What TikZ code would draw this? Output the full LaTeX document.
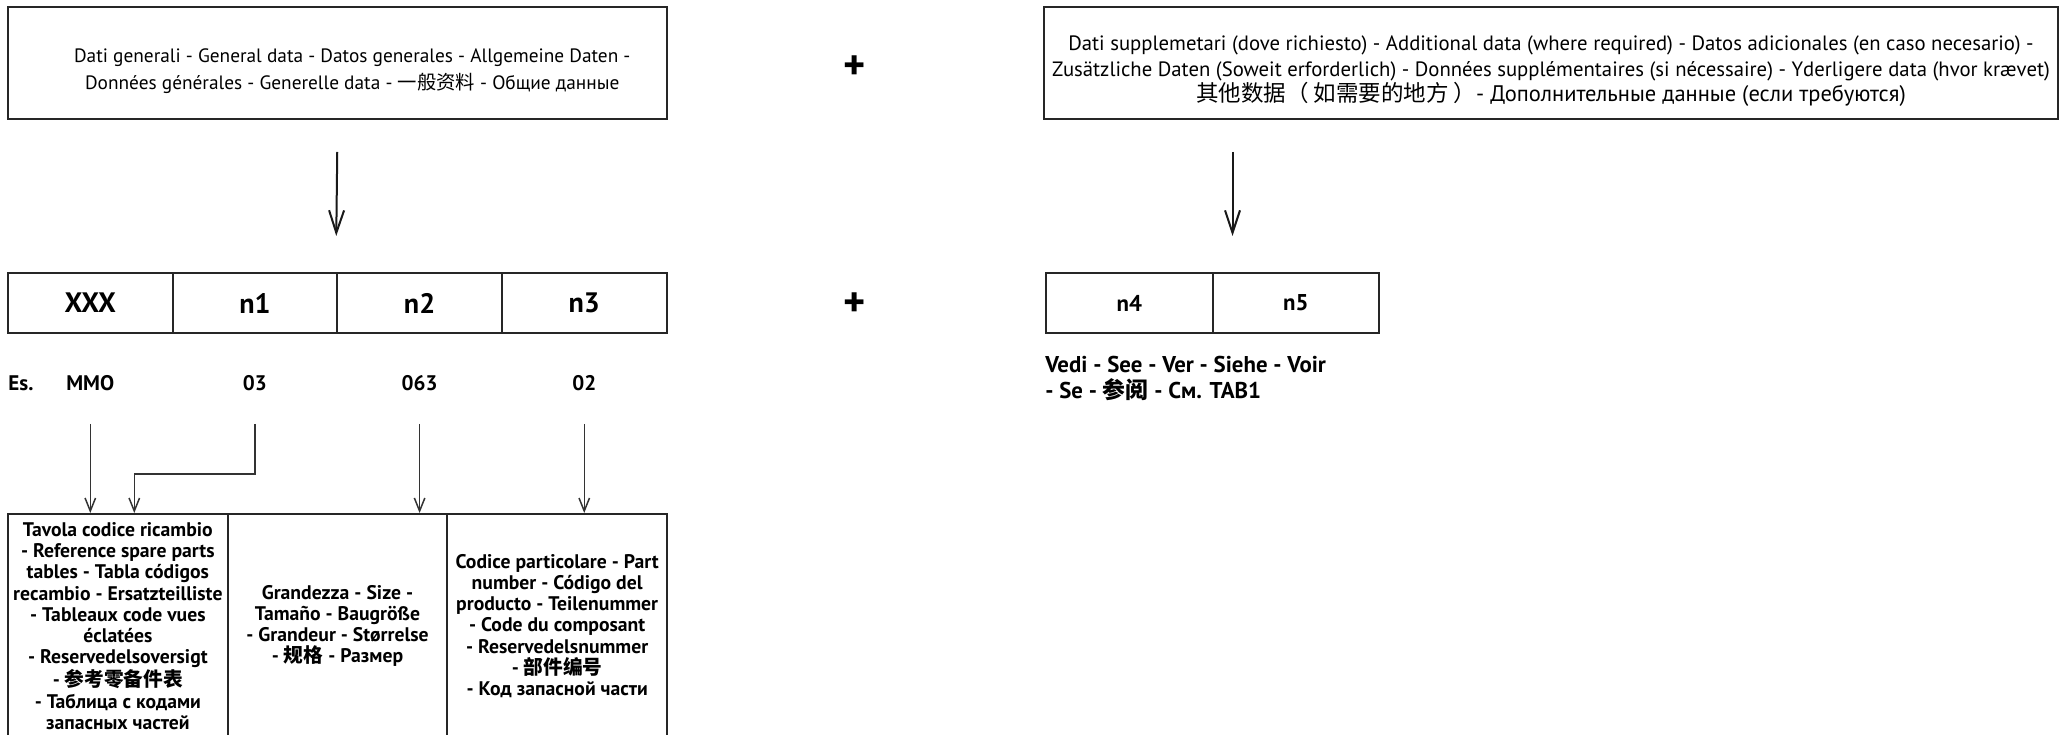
\documentclass[tikz,border=0pt]{standalone}
\usepackage{fontspec}
\setmainfont{PT Sans}
\newfontfamily\cjk{Noto Sans CJK SC}
\usetikzlibrary{calc,arrows.meta}

\begin{document}
\begin{tikzpicture}[
  node distance=32.93mm
]

  \tikzstyle{infobox}=[draw=black!85,rectangle,line width=0.4mm,minimum height=22.4mm,inner sep=0mm]
  \tikzstyle{infotext}=[inner sep=0mm,align=center]
  \tikzstyle{codecell}=[draw=black!85,rectangle,line width=0.4mm,minimum height=12mm,minimum width=32.93mm,inner sep=0mm,font=\fontsize{16}{18}\selectfont\bfseries]
  \tikzstyle{extcell}=[codecell,minimum width=33.3mm,node distance=33.3mm,font=\fontsize{13}{15}\selectfont\bfseries]
  \tikzstyle{desccell}=[draw=black!85,rectangle,line width=0.4mm,minimum height=44.8mm,minimum width=43.93mm,inner sep=0mm,node distance=43.93mm,align=center,font=\fontsize{11.2}{12.1}\selectfont\bfseries]
  \tikzstyle{valnode}=[inner sep=0mm,node distance=16mm,font=\fontsize{12}{13}\selectfont\bfseries]
  \tikzstyle{plusnode}=[inner sep=0mm,font=\fontsize{24}{24}\selectfont\bfseries]

  \tikzstyle{pointer}=[draw=black!80,line width=0.3mm,-{Straight Barb[length=2.6mm,width=2.1mm]}]
  \tikzstyle{bigpointer}=[draw=black!90,line width=0.4mm,-{Straight Barb[length=4.5mm,width=3mm]}]

  \useasboundingbox (0mm,0mm) rectangle (413mm,-147mm);

  % nodes
  \node[infobox,minimum width=131.7mm] (gen) at (67.45mm,-12.6mm) {};
  \node[infotext,font=\fontsize{11}{15.4}\selectfont] (gentext) at ($(gen)+(3mm,-1.6mm)$)
    {Dati generali - General data - Datos generales - Allgemeine Daten -\\
     Données générales - Generelle data - {\cjk 一般资料} - Общие данные};
  \node[infobox,minimum width=202.8mm] (add) at (310.2mm,-12.6mm) {};
  \node[infotext,font=\fontsize{11.8}{14.6}\selectfont] (addtext) at ($(add)+(0mm,-1.65mm)$)
    {Dati supplemetari (dove richiesto) - Additional data (where required) - Datos adicionales (en caso necesario) -\\
     Zusätzliche Daten (Soweit erforderlich) - Données supplémentaires (si nécessaire) - Yderligere data (hvor krævet)\\
     {\fontsize{12.8}{14.6}\selectfont{\cjk 其他数据（ 如需要的地方 ）}- Дополнительные данные (если требуются)}};

  \node[plusnode] (plus1) at (171mm,-13.6mm) {+};
  \node[plusnode] (plus2) at (171mm,-61mm) {+};

  \node[codecell] (xxx) at (18.06mm,-60.6mm) {XXX};
  \node[codecell] (n1) [right of=xxx] {n1};
  \node[codecell] (n2) [right of=n1] {n2};
  \node[codecell] (n3) [right of=n2] {n3};

  \node[extcell] (n4) at (225.85mm,-60.6mm) {n4};
  \node[extcell] (n5) [right of=n4] {n5};

  \node[valnode,anchor=west] (es) at (1.6mm,-76.6mm) {Es.};
  \node[valnode] (mmo) [below of=xxx] {MMO};
  \node[valnode] (v1) [below of=n1] {03};
  \node[valnode] (v2) [below of=n2] {063};
  \node[valnode] (v3) [below of=n3] {02};

  \node[valnode,font=\fontsize{13}{14.8}\selectfont\bfseries,align=left,anchor=north west] (see)
    at ($(n4.south west)+(0mm,-4.4mm)$)
    {Vedi - See - Ver - Siehe - Voir\\- Se - {\cjk 参阅} - См. TAB1};

  \node[desccell] (tab) at (23.57mm,-125.2mm)
    {Tavola codice ricambio\\- Reference spare parts\\tables - Tabla códigos\\recambio - Ersatzteilliste\\
     - Tableaux code vues\\éclatées\\- Reservedelsoversigt\\- {\cjk 参考零备件表}\\- Таблица с кодами\\запасных частей};
  \node[desccell] (size) [right of=tab]
    {Grandezza - Size -\\Tamaño - Baugröße\\- Grandeur - Størrelse\\- {\cjk 规格} - Размер};
  \node[desccell] (part) [right of=size]
    {Codice particolare - Part\\number - Código del\\producto - Teilenummer\\- Code du composant\\
     - Reservedelsnummer\\- {\cjk 部件编号}\\- Код запасной части};

  % pointers
  \coordinate (gentip) at ($(n2.north west)+(0mm,7.2mm)$);
  \coordinate (addtip) at ($(n5.north west)+(4.2mm,7.2mm)$);
  \coordinate (bend) at ($(mmo |- tab.north)+(8.8mm,0mm)$);

  \draw[bigpointer] ($(gen.south)+(0mm,-6.4mm)$) -- (gentip);
  \draw[bigpointer] ($(add.south -| addtip)+(0mm,-6.4mm)$) -- (addtip);

  \draw[pointer] ($(mmo)+(0mm,-8.2mm)$) -- (mmo |- tab.north);
  \draw[pointer] ($(v1)+(0mm,-8.2mm)$) -- ($(v1)+(0mm,-18.2mm)$) -| (bend);
  \draw[pointer] ($(v2)+(0mm,-8.2mm)$) -- (v2 |- tab.north);
  \draw[pointer] ($(v3)+(0mm,-8.2mm)$) -- (v3 |- tab.north);

\end{tikzpicture}
\end{document}
